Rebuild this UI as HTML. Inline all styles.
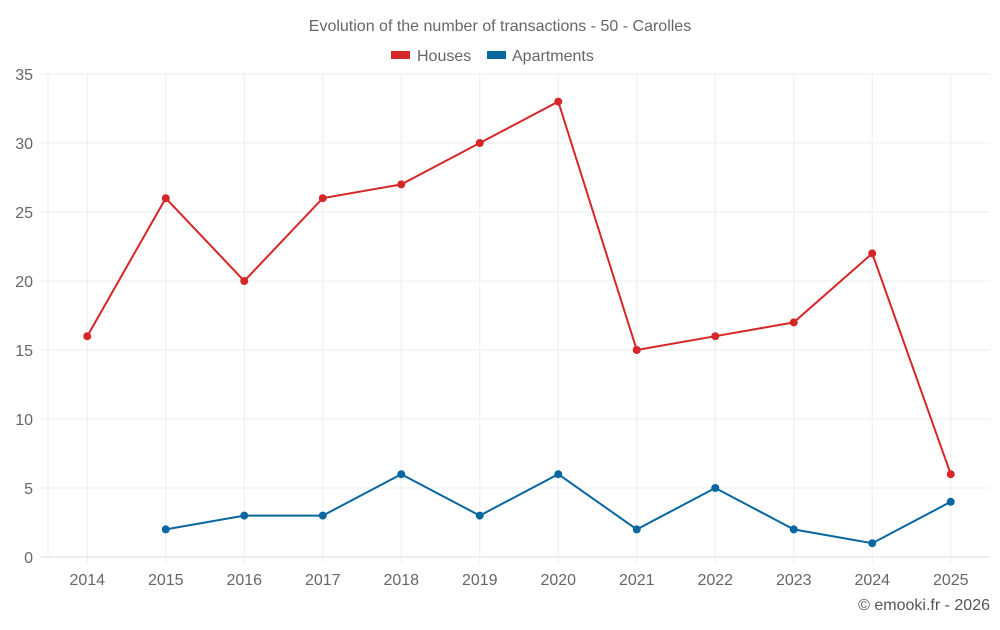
<!DOCTYPE html>
<html><head><meta charset="utf-8"><style>
body{margin:0;background:#fff;font-family:"Liberation Sans",sans-serif}
</style></head><body>
<svg id="c" width="1000" height="625" xmlns="http://www.w3.org/2000/svg">
<text x="500" y="31" text-anchor="middle" font-size="16" fill="#666">Evolution of the number of transactions - 50 - Carolles</text>
<g><rect x="391" y="51" width="19" height="8" fill="#d62728"/><text x="417" y="61" font-size="16" fill="#666">Houses</text></g>
<g><rect x="487" y="51" width="19" height="8" fill="#0866a0"/><text x="512" y="61" font-size="16" fill="#666">Apartments</text></g>
<g id="grid"></g><g id="axes"></g><g id="series"></g>
<text x="990" y="610" text-anchor="end" font-size="16" fill="#555">© emooki.fr - 2026</text>
</svg>
<script>
const years=[2014,2015,2016,2017,2018,2019,2020,2021,2022,2023,2024,2025];
const houses=[16,26,20,26,27,30,33,15,16,17,22,6];
const apartments=[null,2,3,3,6,3,6,2,5,2,1,4];
const yTicks=[0,5,10,15,20,25,30,35];
const NS="http://www.w3.org/2000/svg";
const L=48,R=990,T=74,B=557,yMax=35;
const bw=(R-L)/years.length;
const X=i=>L+bw*(i+0.5);
const Y=v=>B-(v/yMax)*(B-T);
function mk(p,t,a){const e=document.createElementNS(NS,t);for(const k in a)e.setAttribute(k,a[k]);p.appendChild(e);return e;}
const g=document.getElementById('grid'),ax=document.getElementById('axes'),s=document.getElementById('series');
yTicks.forEach(v=>{
 const l=mk(g,'line',{x1:40,x2:R,y1:Y(v),y2:Y(v),stroke:v===0?'#ddd':'#eee'});
 
 
 const t=mk(ax,'text',{x:33,y:Y(v)+6,'text-anchor':'end','font-size':16,fill:'#666'});t.textContent=v;
 
 
});
mk(g,'line',{x1:L,x2:L,y1:T,y2:B,stroke:'#eee'});
years.forEach((y,i)=>{
 const l=mk(g,'line',{x1:X(i),x2:X(i),y1:T,y2:B+6,stroke:'#eee'});
 
 
 const t=mk(ax,'text',{x:X(i),y:585,'text-anchor':'middle','font-size':16,fill:'#666'});t.textContent=y;
 
 
});
function draw(data,color,name){
 let d='';data.forEach((v,i)=>{if(v==null)return;d+=(d?'L':'M')+X(i)+' '+Y(v);});
 const p=mk(s,'path',{d:d,fill:'none',stroke:color,'stroke-width':2});
 
 
 data.forEach((v,i)=>{if(v==null)return;
  const c=mk(s,'circle',{cx:X(i),cy:Y(v),r:4,fill:color});
  
  
 });
}
draw(houses,'#d62728','houses');
draw(apartments,'#0866a0','apartments');
</script>
</body></html>
